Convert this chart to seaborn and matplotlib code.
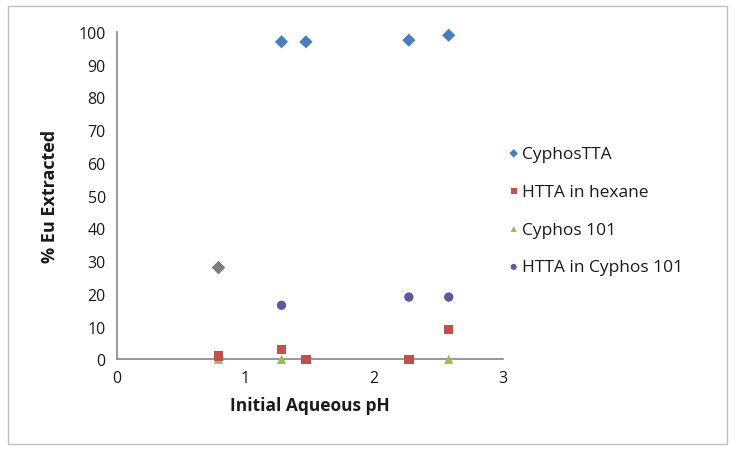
import matplotlib.pyplot as plt
import pandas as pd
import seaborn as sns

# data
series = ['CyphosTTA', 'HTTA in hexane', 'Cyphos 101', 'HTTA in Cyphos 101']

cyphos_tta_ph = [0.79, 1.28, 1.47, 2.27, 2.58]
cyphos_tta_ext = [28, 97, 97, 97.5, 99]

htta_hexane_ph = [0.79, 1.28, 1.47, 2.27, 2.58]
htta_hexane_ext = [1, 3, 0, 0, 9]

cyphos101_ph = [0.79, 1.28, 2.27, 2.58]
cyphos101_ext = [0, 0, 0, 0]

htta_cyphos_ph = [0.79, 1.28, 2.27, 2.58]
htta_cyphos_ext = [0.5, 16.5, 19, 19]

frames = []
for name, xs, ys in zip(series,
                        [cyphos_tta_ph, htta_hexane_ph, cyphos101_ph, htta_cyphos_ph],
                        [cyphos_tta_ext, htta_hexane_ext, cyphos101_ext, htta_cyphos_ext]):
    frames.append(pd.DataFrame({'pH': xs, 'Extracted': ys, 'Series': name}))
df = pd.concat(frames, ignore_index=True)

colors = {'CyphosTTA': '#4a7ebb', 'HTTA in hexane': '#c0504d',
          'Cyphos 101': '#9bbb59', 'HTTA in Cyphos 101': '#5a5a9e'}
markers = {'CyphosTTA': 'D', 'HTTA in hexane': 's',
           'Cyphos 101': '^', 'HTTA in Cyphos 101': 'o'}

sns.set_style('white')
plt.rcParams['font.family'] = ['Open Sans', 'DejaVu Sans']

fig = plt.figure(figsize=(7.35, 4.52), dpi=100)
ax = fig.add_axes([0.159, 0.203, 0.525, 0.724])

# draw later series first so the diamonds sit on top like the original
for name in series[::-1]:
    sub = df[df['Series'] == name]
    sns.scatterplot(data=sub, x='pH', y='Extracted', color=colors[name],
                    marker=markers[name], s=45, edgecolor='none', ax=ax,
                    label=name, zorder=3, clip_on=False)

# the low CyphosTTA point at pH 0.79 is grey in the original
grey = df[(df['Series'] == 'CyphosTTA') & (df['pH'] < 1)]
ax.scatter(grey['pH'], grey['Extracted'], color='#7f7f7f', marker='D', s=45,
           edgecolor='none', zorder=4, clip_on=False)

ax.set_xlim(0, 3)
ax.set_ylim(0, 100)
ax.set_xticks([0, 1, 2, 3])
ax.set_yticks(range(0, 101, 10))
ax.tick_params(labelsize=11.5, colors='#1a1a1a', length=0, pad=8)
ax.set_xlabel('Initial Aqueous pH', fontsize=12.5, fontweight='bold', labelpad=7,
              color='#1a1a1a')
ax.set_ylabel('% Eu Extracted', fontsize=13, fontweight='bold', labelpad=14,
              color='#1a1a1a')
for side in ['top', 'right']:
    ax.spines[side].set_visible(False)
for side in ['left', 'bottom']:
    ax.spines[side].set_color('#868686')
    ax.spines[side].set_linewidth(1.2)

handles, labels = ax.get_legend_handles_labels()
order = [labels.index(n) for n in series]
leg = ax.legend([handles[i] for i in order], series, loc='upper left',
                bbox_to_anchor=(0.667, 0.71), bbox_transform=fig.transFigure,
                frameon=False, fontsize=12.5, handletextpad=0.05, labelspacing=1.25,
                markerscale=0.65, handlelength=0.9)
for t in leg.get_texts():
    t.set_color('#1a1a1a')

fig.patches.append(plt.Rectangle((0.011, 0.015), 0.978, 0.97, transform=fig.transFigure,
                                 fill=False, edgecolor='#bfbfbf', linewidth=1))

plt.savefig('out.png', dpi=100)
